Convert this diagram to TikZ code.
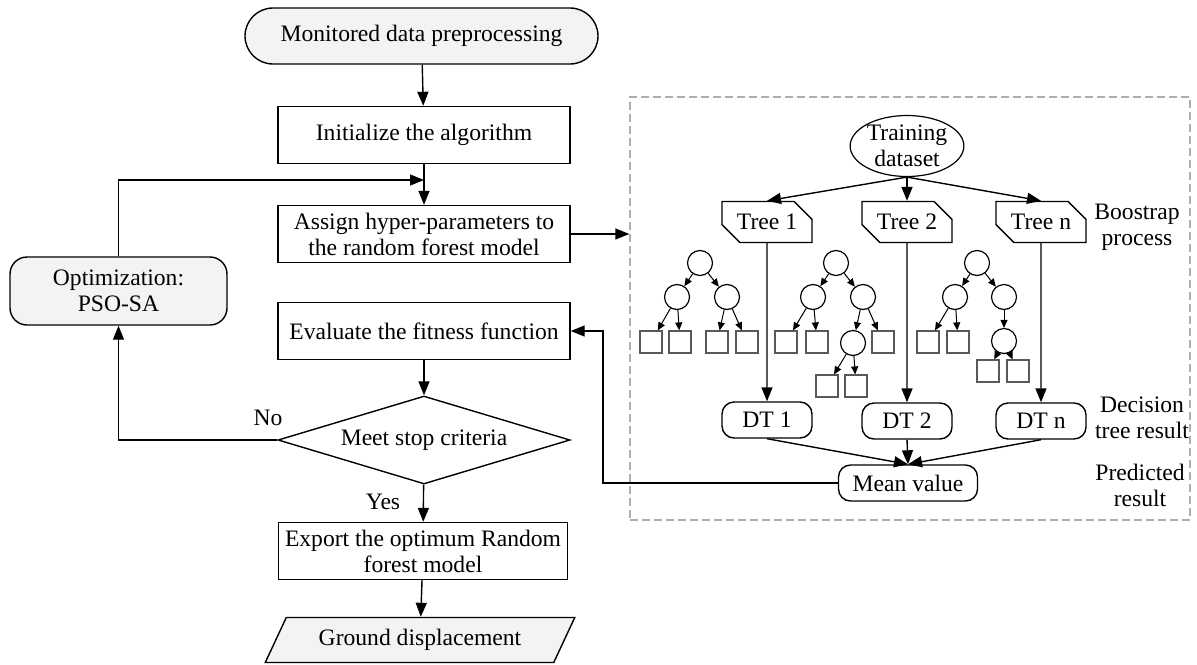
\documentclass[tikz,border=0pt]{standalone}
\usepackage{fontspec}
\setmainfont{Liberation Serif}
\usetikzlibrary{arrows.meta,positioning,shapes.geometric,shapes.misc}
\definecolor{tc}{RGB}{242,244,242}
\definecolor{dc}{RGB}{175,175,175}
\tikzset{box/.style={draw,line width=.7pt,minimum width=146pt,minimum height=28.5pt,align=center,inner sep=1pt},
 term/.style={box,fill=tc,rounded corners=14pt,minimum width=176.5pt,minimum height=28pt},
 opt/.style={box,fill=tc,rounded corners=8.5pt,minimum width=108.5pt,minimum height=34pt},
 dec/.style={draw,diamond,aspect=3.3,minimum width=146pt,minimum height=44pt,inner sep=0pt,line width=.7pt},
 io/.style={draw,trapezium,trapezium left angle=64,trapezium right angle=116,trapezium stretches=true,
  fill=tc,minimum width=155pt,minimum height=22.5pt,line width=.7pt},
 dbox/.style={draw=dc,dash pattern=on 4pt off 2pt,line width=.7pt,minimum width=280pt,minimum height=211.5pt},
 tree/.style={draw,chamfered rectangle,chamfered rectangle corners={north east,south west},
  chamfered rectangle xsep=5pt,chamfered rectangle ysep=5pt,
  minimum width=45pt,minimum height=20.5pt,inner sep=0pt,line width=.7pt},
 dt/.style={draw,rounded corners=6pt,minimum width=45pt,minimum height=18pt,line width=.7pt},
 mv/.style={dt,minimum width=69.5pt},
 ds/.style={draw,ellipse,minimum width=56pt,minimum height=30.5pt,inner sep=0pt,align=center,line width=.6pt},
 nd/.style={draw,circle,minimum size=12.5pt,inner sep=0pt,line width=.6pt},
 lf/.style={draw=black!65,minimum size=11pt,inner sep=0pt,line width=.6pt},
 arr/.style={-{Triangle[length=7pt,width=5.5pt]},line width=.7pt},
 sarr/.style={-{Triangle[length=4pt,width=3.5pt]},line width=.5pt},
 every node/.style={font=\fontsize{11.8}{13}\selectfont}}
\begin{document}
\begin{tikzpicture}[x=0.5pt,y=-0.5pt]
\useasboundingbox (0,0) rectangle (1197,664);
% flow on the left
\node[term] (mon) at (421.5,36) {Monitored data preprocessing};
\node[box] (init) at (424,135) {Initialize the algorithm};
\node[box] (asg) at (424,234) {Assign hyper-parameters to\\the random forest model};
\node[box] (eva) at (424,331) {Evaluate the fitness function};
\node[dec] (stop) at (424,440) {Meet stop criteria};
\node[box,minimum width=144.5pt] (exp) at (423,551) {Export the optimum Random\\forest model};
\node[io] (gd) at (420,640) {Ground displacement};
\node[opt] (pso) at (118.5,291) {Optimization:\\PSO-SA};
\node (no) at (268,418) {No};\node (yes) at (383,502) {Yes};
\coordinate (join) at (424,180);
\draw[arr] (mon) -- (init);\draw[arr] (init) -- (asg);
\draw[arr] (pso.north) |- (join);
\draw[arr] (eva) -- (stop);\draw[arr] (stop.west) -| (pso.south);
\draw[arr] (stop) -- (exp);\draw[arr] (exp) -- (gd);
% random forest
\node[dbox] (rf) at (910,308.5) {};
\draw[arr] (asg) -- (asg -| rf.west);
\node[ds] (td) at (907,146) {Training\\dataset};
\node[tree] (t1) at (767,222) {Tree 1};\node[tree] (t2) at (907,222) {Tree 2};\node[tree] (tn) at (1041,222) {Tree n};
\node[dt] (d1) at (767,420) {DT 1};\node[dt] (d2) at (907,421) {DT 2};\node[dt] (dn) at (1041,421) {DT n};
\node[mv] (mv) at (908,483) {Mean value};
\node[align=center] (bs) at (1137,227) {Boostrap\\process};
\node[align=center] (dtr) at (1142,418) {Decision\\tree result};
\node[align=center] (pr) at (1140,485) {Predicted\\result};
\foreach \t/\d in {t1/d1,t2/d2,tn/dn}{\draw[arr] (td.south) -- (\t.north);\draw[arr] (\t) -- (\d);\draw[arr] (\d.south) -- (mv.north);}
\draw[arr] (mv.west) -- ++(-235,0) |- (eva.east);
% small trees
\node[nd] (r1) at (700,263) {};\node[nd] (r1l) at (677,297) {};\node[nd] (r1r) at (727,297) {};
\node[lf] (r1la) at (651,342) {};\node[lf] (r1lb) at (680,342) {};\node[lf] (r1ra) at (717,342) {};\node[lf] (r1rb) at (747,342) {};
\node[nd] (r2) at (836,263) {};\node[nd] (r2l) at (813,297) {};\node[nd] (r2r) at (863,297) {};
\node[lf] (r2la) at (786,342) {};\node[lf] (r2lb) at (817,342) {};\node[nd] (r2s) at (853,343) {};\node[lf] (r2rb) at (883,342) {};
\node[lf] (r2sa) at (827,386) {};\node[lf] (r2sb) at (856,386) {};
\node[nd] (r3) at (977,263) {};\node[nd] (r3l) at (955,297) {};\node[nd] (r3r) at (1004,297) {};
\node[lf] (r3la) at (928,342) {};\node[lf] (r3lb) at (958,342) {};\node[nd] (r3s) at (1004,341) {};
\node[lf] (r3sa) at (988,371) {};\node[lf] (r3sb) at (1018,371) {};
\foreach \a/\b in {r1/r1l,r1/r1r,r1l/r1la,r1l/r1lb,r1r/r1ra,r1r/r1rb,
 r2/r2l,r2/r2r,r2l/r2la,r2l/r2lb,r2r/r2s,r2r/r2rb,r2s/r2sa,r2s/r2sb,
 r3/r3l,r3/r3r,r3l/r3la,r3l/r3lb,r3r/r3s,r3s/r3sa,r3s/r3sb}
 \draw[sarr] (\a) -- (\b);
\end{tikzpicture}
\end{document}
